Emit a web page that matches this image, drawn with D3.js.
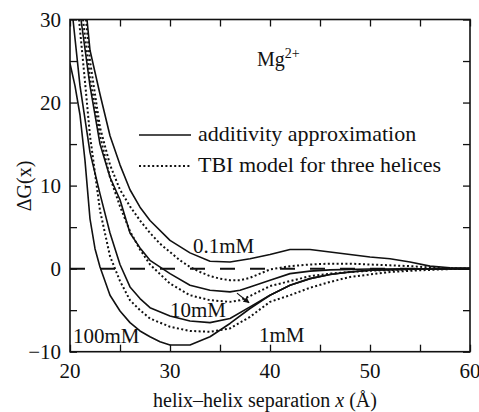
<!DOCTYPE html>
<html>
<head>
<meta charset="utf-8">
<script src="https://cdn.jsdelivr.net/npm/d3@7"></script>
<style>
  html, body { margin: 0; padding: 0; background: #fff; }
  svg { display: block; }
</style>
</head>
<body>
<svg id="chart" width="479" height="412" viewBox="0 0 479 412"></svg>
<script>
// --- Data ---
const xTicks = [20, 30, 40, 50, 60];
const yTicks = [-10, 0, 10, 20, 30];

// additivity approximation (solid)
const add01X = [21.7, 22, 23, 24, 25, 26, 27, 28, 30, 32, 34, 36, 38, 40, 42, 44, 46, 48, 50, 52, 54, 56, 58, 60];
const add01Y = [30, 26.3, 21, 16, 12.5, 9.5, 7.4, 5.8, 3.4, 1.9, 0.9, 0.8, 1.2, 1.7, 2.3, 2.3, 2.0, 1.7, 1.4, 1.2, 0.8, 0.3, 0.1, 0];
const add1X = [21.1, 22, 23, 24, 25, 26, 27, 28, 30, 32, 34, 36, 37, 38, 40, 42, 44, 46, 50, 60];
const add1Y = [30, 22, 15, 11, 8.3, 4.3, 2.5, 1.0, -0.6, -2.0, -2.6, -2.8, -2.6, -2.2, -1.4, -0.6, -0.3, -0.15, -0.05, 0];
const add10X = [20.3, 21, 22, 23, 24, 25, 26, 27, 28, 30, 32, 34, 36, 38, 40, 42, 44, 46, 48, 50, 55, 60];
const add10Y = [30, 22, 14, 9, 4.3, 0.5, -2.2, -3.6, -4.7, -5.7, -6.3, -6.5, -6.0, -4.6, -3.2, -2.0, -1.2, -0.7, -0.4, -0.2, -0.05, 0];
const add100X = [20, 20.5, 21, 21.5, 22, 22.5, 23, 24, 25, 26, 27, 28, 29, 30, 32, 34, 36, 38, 40, 42, 44, 46, 48, 50, 55, 60];
const add100Y = [24.7, 22, 18.5, 13, 6, 2.4, 0.2, -3.2, -5.1, -6.5, -7.5, -8.2, -8.8, -9.2, -9.2, -8.2, -6.6, -4.8, -3.2, -2.0, -1.2, -0.7, -0.4, -0.2, -0.05, 0];

// TBI model for three helices (dotted)
const tbi01X = [21.6, 22, 23, 24, 25, 26, 27, 28, 29, 30, 31, 32, 33, 34, 35, 36, 37, 38, 39, 40, 42, 44, 46, 48, 50, 52, 54, 56, 58, 60];
const tbi01Y = [30, 25, 17, 12.5, 9.5, 7.5, 5.8, 4.3, 3, 2, 1, 0.2, -0.4, -0.9, -1.2, -1.4, -1.4, -1.1, -0.6, -0.1, 0.3, 0.5, 0.6, 0.6, 0.5, 0.4, 0.3, 0.15, 0.05, 0];
const tbi1X = [21.3, 22, 23, 24, 25, 26, 27, 28, 30, 32, 34, 36, 37, 38, 40, 42, 44, 46, 48, 50, 55, 60];
const tbi1Y = [30, 23, 16, 11, 7.5, 4.5, 2.3, 0.5, -1.8, -3.2, -3.8, -4.0, -3.8, -3.3, -2.1, -1.5, -0.9, -0.6, -0.4, -0.25, -0.05, 0];
const tbi10X = [20.9, 21.5, 22, 23, 24, 25, 26, 27, 28, 30, 32, 34, 36, 38, 40, 42, 44, 46, 48, 50, 52, 55, 58, 60];
const tbi10Y = [30, 22.5, 16, 7, 1.5, -1.5, -3.8, -5, -6.0, -7.0, -7.5, -7.6, -7.2, -5.8, -4.0, -3.2, -2.3, -1.6, -1.0, -0.7, -0.4, -0.2, -0.05, 0];

const legendLabels = ["additivity approximation", "TBI model for three helices"];
const concLabels = ["0.1mM", "10mM", "100mM", "1mM"];

function renderChart(selector) {
  const svg = d3.select(selector);
  svg.selectAll("*").remove();

  // --- Layout ---
  const margin = { left: 70, top: 19.5, right: 9, bottom: 60.3 };
  const width = 479 - margin.left - margin.right;
  const height = 412 - margin.top - margin.bottom;
  const ink = "#111";
  const serif = "'Liberation Serif', 'DejaVu Serif', 'Times New Roman', serif";

  const x = d3.scaleLinear().domain([20, 60]).range([0, width]);
  const y = d3.scaleLinear().domain([-10, 30]).range([height, 0]);

  const g = svg.append("g")
    .attr("transform", `translate(${margin.left},${margin.top})`)
    .attr("font-family", serif);

  const defs = svg.append("defs");
  defs.append("clipPath").attr("id", "plot-clip")
    .append("rect").attr("width", width).attr("height", height);
  defs.append("marker")
    .attr("id", "arrowhead")
    .attr("viewBox", "0 -5 10 10")
    .attr("refX", 9)
    .attr("refY", 0)
    .attr("markerWidth", 7)
    .attr("markerHeight", 6)
    .attr("markerUnits", "userSpaceOnUse")
    .attr("orient", "auto")
    .append("path")
    .attr("d", "M0,-5L10,0L0,5Z")
    .attr("fill", ink);

  // zero line (dashed)
  g.append("line")
    .attr("x1", 0).attr("x2", width)
    .attr("y1", y(0)).attr("y2", y(0))
    .attr("stroke", ink)
    .attr("stroke-width", 2)
    .attr("stroke-dasharray", "15,15");

  // --- Curves ---
  const line = d3.line().x(d => x(d[0])).y(d => y(d[1]));
  const curves = [
    { xs: add01X, ys: add01Y, dotted: false },
    { xs: add1X, ys: add1Y, dotted: false },
    { xs: add10X, ys: add10Y, dotted: false },
    { xs: add100X, ys: add100Y, dotted: false },
    { xs: tbi01X, ys: tbi01Y, dotted: true },
    { xs: tbi1X, ys: tbi1Y, dotted: true },
    { xs: tbi10X, ys: tbi10Y, dotted: true }
  ];
  const plot = g.append("g").attr("clip-path", "url(#plot-clip)");
  curves.forEach(c => {
    plot.append("path")
      .datum(c.xs.map((v, i) => [v, c.ys[i]]))
      .attr("d", line)
      .attr("fill", "none")
      .attr("stroke", ink)
      .attr("stroke-width", c.dotted ? 2 : 1.6)
      .attr("stroke-dasharray", c.dotted ? "2,2.4" : null)
      .attr("stroke-linejoin", "round");
  });

  // --- Frame and ticks (inward, every 5 units) ---
  const tickLen = 7;
  const minorX = d3.range(20, 60.1, 5);
  const minorY = d3.range(-10, 30.1, 5);
  const axisB = d3.axisBottom(x).tickValues(minorX).tickSize(-tickLen).tickFormat("");
  const axisT = d3.axisTop(x).tickValues(minorX).tickSize(-tickLen).tickFormat("");
  const axisL = d3.axisLeft(y).tickValues(minorY).tickSize(-tickLen).tickFormat("");
  const axisR = d3.axisRight(y).tickValues(minorY).tickSize(-tickLen).tickFormat("");
  [[axisB, `translate(0,${height})`], [axisT, null], [axisL, null], [axisR, `translate(${width},0)`]]
    .forEach(([ax, tr]) => {
      const a = g.append("g").attr("transform", tr).call(ax);
      a.select(".domain").remove();
      a.selectAll("line").attr("stroke", ink).attr("stroke-width", 1.3);
    });
  g.append("rect")
    .attr("width", width).attr("height", height)
    .attr("fill", "none").attr("stroke", ink).attr("stroke-width", 1.6);

  // tick labels
  g.selectAll(".xlab").data(xTicks).join("text")
    .attr("class", "xlab")
    .attr("x", d => x(d)).attr("y", height + 26.5)
    .attr("text-anchor", "middle")
    .attr("fill", ink)
    .style("font-size", "21px")
    .text(d => d);
  g.selectAll(".ylab").data(yTicks).join("text")
    .attr("class", "ylab")
    .attr("x", -9).attr("y", d => y(d)).attr("dy", "0.34em")
    .attr("text-anchor", "end")
    .attr("fill", ink)
    .style("font-size", "21px")
    .text(d => d < 0 ? "\u2212" + Math.abs(d) : d);

  // axis titles
  const xt = svg.append("text")
    .attr("x", 265).attr("y", 407)
    .attr("text-anchor", "middle")
    .attr("font-family", serif)
    .attr("fill", ink)
    .style("font-size", "20px");
  xt.append("tspan").text("helix\u2013helix separation ");
  xt.append("tspan").style("font-style", "italic").text("x");
  xt.append("tspan").text(" (\u00C5)");

  svg.append("text")
    .attr("transform", "translate(31,186) rotate(-90)")
    .attr("text-anchor", "middle")
    .attr("font-family", serif)
    .attr("fill", ink)
    .style("font-size", "20px")
    .text("\u0394G(x)");

  // Mg2+ label
  const mg = g.append("text")
    .attr("x", x(38.7)).attr("y", 46)
    .attr("fill", ink)
    .style("font-size", "20px");
  mg.append("tspan").text("Mg");
  mg.append("tspan").attr("dy", -8).style("font-size", "14px").text("2+");

  // --- Legend ---
  legendLabels.forEach((label, i) => {
    const ly = 115.5 + i * 31;
    g.append("line")
      .attr("x1", 69).attr("x2", 121)
      .attr("y1", ly).attr("y2", ly)
      .attr("stroke", ink)
      .attr("stroke-width", i === 0 ? 1.6 : 2)
      .attr("stroke-dasharray", i === 0 ? null : "2,2.4");
    g.append("text")
      .attr("x", 128).attr("y", ly + 6)
      .attr("fill", ink)
      .style("font-size", "22px")
      .text(label);
  });

  // --- Concentration labels (left edge x in data units, baseline in px) ---
  const concPos = [[32.3, 233.5], [30.0, 297.5], [20.3, 323.5], [38.9, 322.5]];
  concLabels.forEach((t, i) => {
    g.append("text")
      .attr("x", x(concPos[i][0])).attr("y", concPos[i][1])
      .attr("fill", ink)
      .style("font-size", "21px")
      .text(t);
  });

  // small pointer arrow
  g.append("line")
    .attr("x1", x(36.7)).attr("y1", y(-2.95))
    .attr("x2", x(37.9)).attr("y2", y(-4.1))
    .attr("stroke", ink)
    .attr("stroke-width", 1.2)
    .attr("marker-end", "url(#arrowhead)");
}

renderChart("#chart");
</script>
</body>
</html>
